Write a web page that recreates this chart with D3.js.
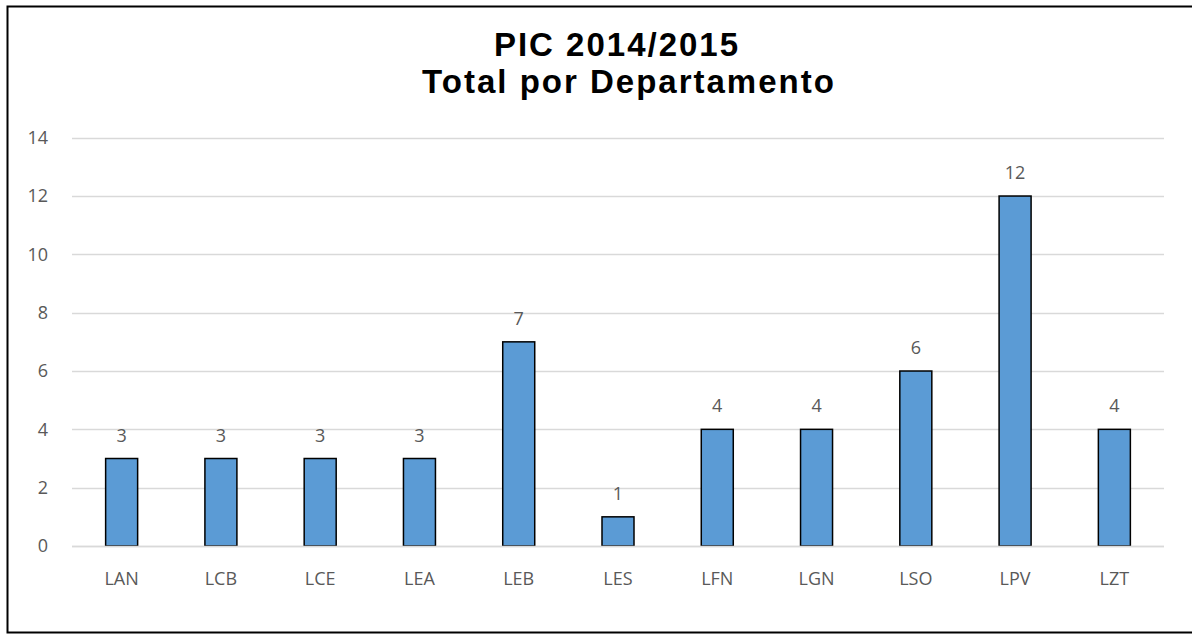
<!DOCTYPE html>
<html>
<head>
<meta charset="utf-8">
<script src="https://cdnjs.cloudflare.com/ajax/libs/d3/7.8.5/d3.min.js"></script>
<style>
  body { margin: 0; background: #fff; }
  svg { display: block; }
  .tick-label { font-family: "Open Sans", "Liberation Sans", sans-serif; font-size: 18px; fill: #595959; }
</style>
</head>
<body>
<svg id="chart" width="1192" height="634"></svg>
<script>
// chart data
var titleLines = ["PIC 2014/2015", "Total por Departamento"];
var departments = ["LAN", "LCB", "LCE", "LEA", "LEB", "LES", "LFN", "LGN", "LSO", "LPV", "LZT"];
var totals = [3, 3, 3, 3, 7, 1, 4, 4, 6, 12, 4];
var yTicks = [0, 2, 4, 6, 8, 10, 12, 14];

var svg = d3.select("#chart");

// outer frame (right edge runs off the picture)
svg.append("rect")
    .attr("x", 7.5).attr("y", 6.5)
    .attr("width", 1200).attr("height", 626)
    .attr("fill", "#fff")
    .attr("stroke", "#000")
    .attr("stroke-width", 2);

var x = d3.scaleBand().domain(departments).range([72, 1164]);
var y = d3.scaleLinear().domain([0, 14]).range([546, 137.7]);
var barWidth = 32;

// grid
var grid = svg.append("g").attr("class", "grid");
yTicks.forEach(function (t) {
    grid.append("line")
        .attr("x1", 72).attr("x2", 1164)
        .attr("y1", Math.round(y(t)) + 0.5).attr("y2", Math.round(y(t)) + 0.5)
        .attr("stroke", "#d9d9d9")
        .attr("stroke-width", 1.5);
    svg.append("text")
        .attr("class", "tick-label")
        .attr("x", 48).attr("y", y(t))
        .attr("dy", "0.35em")
        .attr("text-anchor", "end")
        .text(t);
});

// bars
var bars = svg.append("g").attr("class", "bars");
departments.forEach(function (d, i) {
    var cx = x(d) + x.bandwidth() / 2;
    bars.append("rect")
        .attr("x", cx - barWidth / 2)
        .attr("y", y(totals[i]))
        .attr("width", barWidth)
        .attr("height", y(0) - y(totals[i]))
        .attr("fill", "#5b9bd5")
        .attr("stroke", "#000")
        .attr("stroke-width", 1.5);
    // value label
    svg.append("text")
        .attr("class", "tick-label")
        .attr("x", cx).attr("y", y(totals[i]) - 17)
        .attr("text-anchor", "middle")
        .text(totals[i]);
    // category label
    svg.append("text")
        .attr("class", "tick-label")
        .attr("x", cx).attr("y", 585)
        .attr("text-anchor", "middle")
        .text(d);
});

// baseline over bar bottoms
svg.append("line")
    .attr("x1", 72).attr("x2", 1164)
    .attr("y1", Math.round(y(0)) + 0.5).attr("y2", Math.round(y(0)) + 0.5)
    .attr("stroke", "#d9d9d9")
    .attr("stroke-width", 1.5);

// title (first line sits a bit left, as in the original)
var titleX = [617, 629];
titleLines.forEach(function (line, i) {
    svg.append("text")
        .attr("x", titleX[i]).attr("y", 56 + i * 37)
        .attr("text-anchor", "middle")
        .attr("font-family", "'Liberation Sans', Arial, sans-serif")
        .attr("font-weight", "bold")
        .attr("font-size", 33)
        .attr("letter-spacing", 2)
        .attr("fill", "#000")
        .text(line);
});
</script>
</body>
</html>
